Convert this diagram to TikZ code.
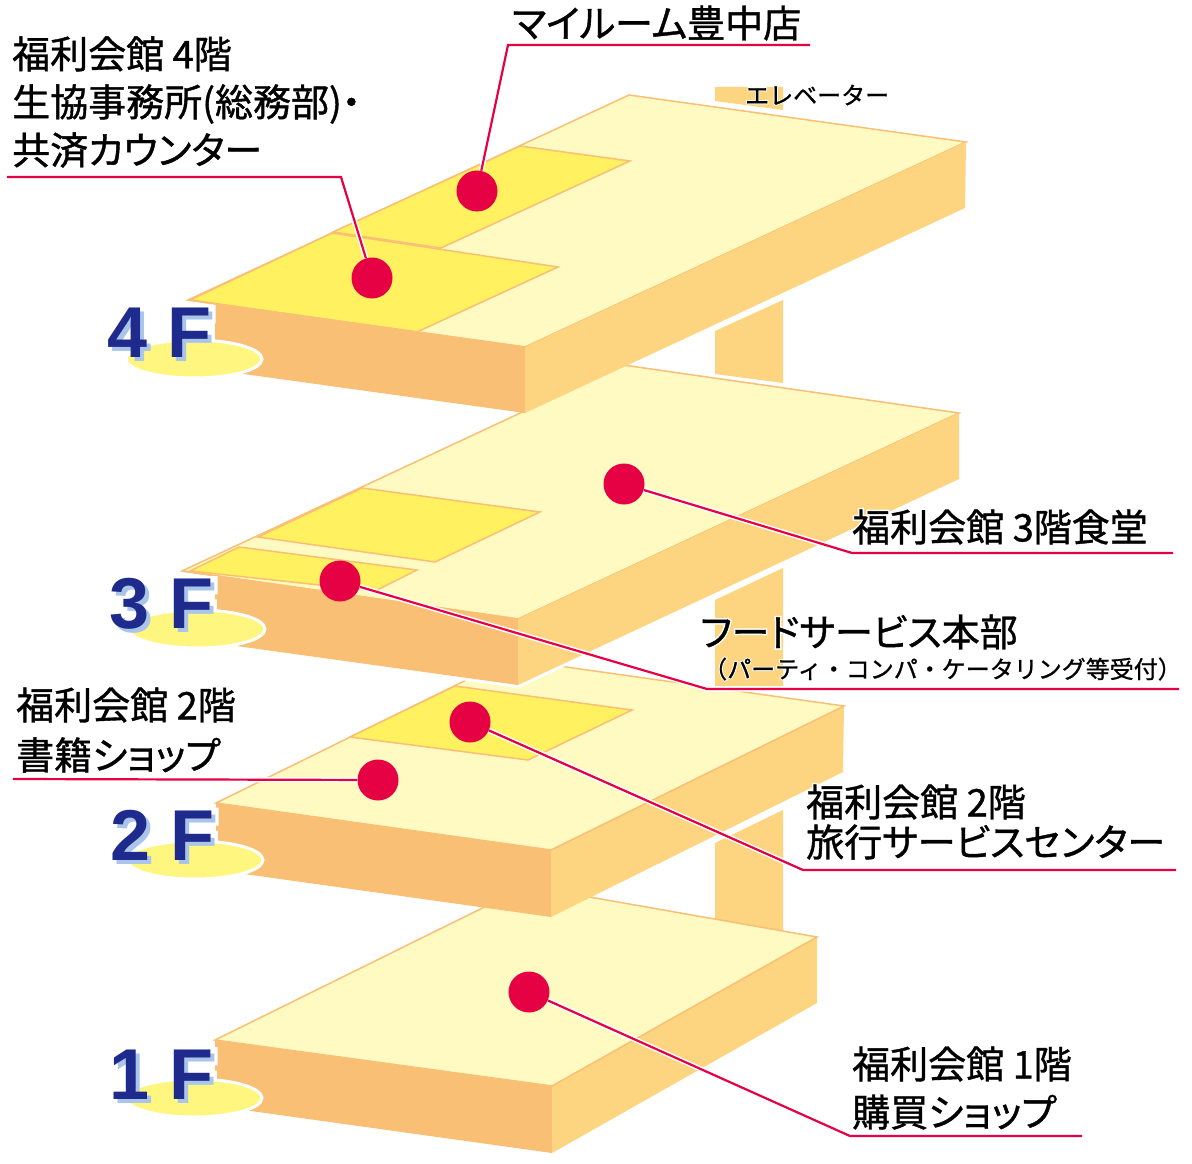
\documentclass[tikz,border=0pt]{standalone}
\usepackage{xcolor}
\usepackage{fontspec}
\newfontfamily\jpfont[RawFeature=+palt, FakeBold=1]{Noto Sans CJK JP}
\newfontfamily\halofont[RawFeature=+palt, FakeBold=9]{Noto Sans CJK JP}
\newfontfamily\floorfont{Liberation Sans Bold}
\newfontfamily\floorhalo[FakeBold=14]{Liberation Sans Bold}
\definecolor{topcol}{HTML}{FFFAC2}
\definecolor{roomcol}{HTML}{FFF15F}
\definecolor{leftcol}{HTML}{F9BF75}
\definecolor{rightcol}{HTML}{FDD580}
\definecolor{dotcol}{HTML}{E60044}
\definecolor{ellcol}{HTML}{FFF67F}
\definecolor{navy}{HTML}{1E2A8C}
\definecolor{skyblue}{HTML}{A9C5EA}
\tikzset{
  topface/.style={fill=topcol, draw=leftcol, line width=1.5pt, line join=miter},
  roomface/.style={fill=roomcol, draw=leftcol, line width=1.5pt},
  leftface/.style={fill=leftcol},
  rightface/.style={fill=rightcol},
  gapline/.style={draw=white, line width=6pt},
  leader/.style={draw=white, double=dotcol, double distance=2.2pt, line width=1.5pt},
  dot/.style={circle, fill=dotcol, inner sep=0pt, minimum size=41pt},
  plate/.style={ellipse, fill=ellcol, draw=white, line width=3pt, minimum width=136pt, minimum height=38pt, inner sep=0pt}
}
% name, position, font size, leading, text
\newcommand{\roomlabel}[5]{
  \node[anchor=west, align=left, white, inner sep=0pt, font=\halofont\fontsize{#3}{#4}\selectfont] (#1h) at (#2) {#5};
  \node[anchor=west, align=left, black, inner sep=0pt, font=\jpfont\fontsize{#3}{#4}\selectfont] (#1) at (#2) {#5};
}
\newcommand{\fullwidth}{\addfontfeatures{RawFeature=-palt}}
% name, position of the plate, position of the text, text
\newcommand{\floorlabel}[4]{
  \node[anchor=west, white, inner sep=0pt, xshift=2pt, yshift=-2pt, font=\floorhalo\fontsize{72}{72}\selectfont] (#1h) at (#3) {#4};
  \node[plate] (#1p) at (#2) {};
  \node[anchor=west, skyblue, inner sep=0pt, xshift=4pt, yshift=-4pt, font=\floorfont\fontsize{72}{72}\selectfont] (#1s) at (#3) {#4};
  \node[anchor=west, navy, inner sep=0pt, font=\floorfont\fontsize{72}{72}\selectfont] (#1) at (#3) {#4};
}
\usetikzlibrary{shapes.geometric}
\begin{document}
\begin{tikzpicture}[x=1pt, y=-1pt]
  \useasboundingbox (0,0) rectangle (1192,1164);

  % elevator shaft
  \fill[rightface] (715,87) -- (783,87) -- (783,110) -- (715,101) -- cycle;
  \fill[rightface] (715,331) -- (783,300) -- (783,383) -- (715,374) -- cycle;
  \fill[rightface] (715,600) -- (783,568) -- (783,686) -- (715,686) -- cycle;
  \fill[rightface] (715,843) -- (783,810) -- (783,932) -- (715,920) -- cycle;

  % 1F
  \fill[leftface] (215,1040) -- (552,1086) -- (552,1153) -- (215,1106) -- cycle;
  \fill[rightface] (552,1086) -- (817,937) -- (817,1003) -- (552,1153) -- cycle;
  \draw[topface] (215,1040) -- (527,886) -- (817,937) -- (552,1086) -- cycle;

  % 2F
  \fill[leftface] (216,803) -- (551,850) -- (551,917) -- (216,870) -- cycle;
  \fill[rightface] (551,850) -- (844,706) -- (843,772) -- (551,917) -- cycle;
  \draw[topface] (216,803) -- (509,659) -- (844,706) -- (551,850) -- cycle;
  \draw[roomface] (350,737) -- (455,686) -- (632,710) -- (528,760) -- cycle;

  % 3F
  \draw[gapline] (518,685) -- (959,479);
  \draw[gapline] (215,643) -- (518,685);
  \draw[topface] (182,571) -- (623,365) -- (959,413) -- (518,619) -- cycle;
  \fill[leftface] (182,571) -- (518,619) -- (518,685) -- (215,643) -- (215,576) -- cycle;
  \fill[rightface] (518,619) -- (959,413) -- (959,479) -- (518,685) -- cycle;
  \draw[roomface] (258,537) -- (362,488) -- (540,512) -- (435,562) -- cycle;
  \draw[roomface] (190,571) -- (239,547) -- (417,570) -- (375,591) -- cycle;
  \draw[leftcol, line width=1.5pt] (182,571) -- (518,619);

  % 4F
  \draw[topface] (188,300) -- (629,95) -- (966,142) -- (525,347) -- cycle;
  \fill[leftface] (188,300) -- (525,347) -- (525,413) -- (215,370) -- (215,304) -- cycle;
  \fill[rightface] (525,347) -- (966,142) -- (965,208) -- (525,413) -- cycle;
  \draw[roomface] (333,232) -- (520,146) -- (630,161) -- (441,248) -- cycle;
  \draw[roomface] (190,300) -- (332,233) -- (558,267) -- (417,332) -- cycle;
  \draw[leftcol, line width=1.5pt] (188,300) -- (525,347);

  % floor labels
  \floorlabel{floorfour}{194,359}{107,333}{4 F}
  \floorlabel{floorthree}{197,629}{109,604}{3 F}
  \floorlabel{floortwo}{195,860}{110,835}{2 F}
  \floorlabel{floorone}{194,1098}{109,1075}{1 F}

  % dots
  \node[dot] (myroom) at (477,191) {};
  \node[dot] (office) at (372,278) {};
  \node[dot] (canteen) at (624,484) {};
  \node[dot] (food) at (340,581) {};
  \node[dot] (books) at (378,780) {};
  \node[dot] (travel) at (470,722) {};
  \node[dot] (shop) at (529,992) {};

  % labels
  \roomlabel{elev}{745,95}{24}{30}{\fullwidth エレベーター}
  \roomlabel{myroomt}{512,23}{38}{44}{マイルーム豊中店}
  \roomlabel{officet}{12,102}{38}{48}{福利会館 4階\\生協事務所(総務部)・\\共済カウンター}
  \roomlabel{canteent}{852,527}{38}{44}{福利会館 3階食堂}
  \roomlabel{foodt}{700,632}{38}{44}{フードサービス本部}
  \roomlabel{foodsub}{703,669}{24}{30}{\fullwidth （パーティ・コンパ・ケータリング等受付）}
  \roomlabel{bookst}{16,730}{38}{50}{福利会館 2階\\書籍ショップ}
  \roomlabel{travelt}{806,822}{38}{40}{福利会館 2階\\旅行サービスセンター}
  \roomlabel{shopt}{852,1088}{38}{48}{福利会館 1階\\購買ショップ}

  % leaders
  \coordinate (a1) at (810,45);
  \coordinate (a2) at (508,45);
  \draw[leader] (a1) -- (a2) -- (myroom);
  \coordinate (b1) at (7,177);
  \coordinate (b2) at (341,177);
  \draw[leader] (b1) -- (b2) -- (office);
  \coordinate (c1) at (1173,553);
  \coordinate (c2) at (852,553);
  \draw[leader] (c1) -- (c2) -- (canteen);
  \coordinate (d1) at (1179,689);
  \coordinate (d2) at (707,689);
  \draw[leader] (d1) -- (d2) -- (food);
  \coordinate (e1) at (13,779);
  \draw[leader] (e1) -- (books);
  \coordinate (f1) at (1176,870);
  \coordinate (f2) at (803,870);
  \draw[leader] (f1) -- (f2) -- (travel);
  \coordinate (g1) at (1082,1136);
  \coordinate (g2) at (850,1136);
  \draw[leader] (g1) -- (g2) -- (shop);
\end{tikzpicture}
\end{document}
